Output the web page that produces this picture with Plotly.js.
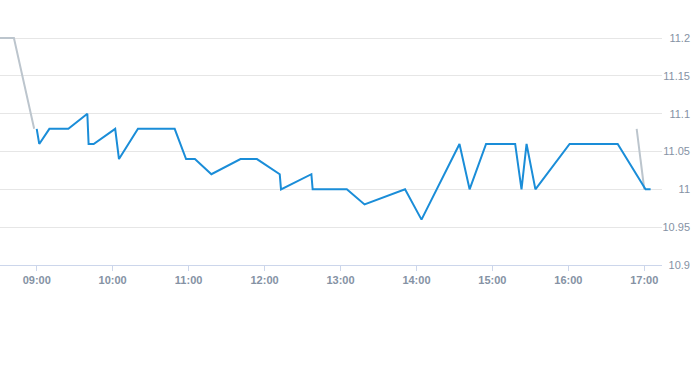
<!DOCTYPE html>
<html>
<head>
<meta charset="utf-8">
<script src="https://cdn.plot.ly/plotly-3.0.1.min.js"></script>
<style>
html,body{margin:0;padding:0;background:#fff;}
#chart{width:693px;height:365px;}
</style>
</head>
<body>
<div id="chart"></div>
<script>
// Intraday price (blue)
const times = ["09:00","09:02","09:10","09:25","09:40","09:41","09:45","10:02","10:05","10:20","10:49","10:58","11:05","11:18","11:41","11:54","12:12","12:13","12:37","12:38","13:05","13:19","13:51","14:04","14:34","14:42","14:55","15:18","15:23","15:27","15:34","16:01","16:39","17:01","17:05"];
const prices = [11.08,11.06,11.08,11.08,11.10,11.06,11.06,11.08,11.04,11.08,11.08,11.04,11.04,11.02,11.04,11.04,11.02,11.00,11.02,11.00,11.00,10.98,11.00,10.96,11.06,11.00,11.06,11.06,11.00,11.06,11.00,11.06,11.06,11.00,11.00];
// Grey pre-open segment
const preTimes = ["08:25","08:42","08:58"];
const prePrices = [11.20,11.20,11.08];
// Grey closing segment
const postTimes = ["16:54","17:00"];
const postPrices = [11.08,11.00];
// Axis ticks
const xTickTimes = ["09:00","10:00","11:00","12:00","13:00","14:00","15:00","16:00","17:00"];
const yTickVals = [10.9,10.95,11,11.05,11.1,11.15,11.2];
const yTickText = ["10.9","10.95","11","11.05","11.1","11.15","11.2"];

const day = "2024-01-02 ";
const d = t => day + t;

// geometry (pixels)
const H = 365, mT = 15, mB = 80, areaH = H - mT - mB;   // 270
const plotTop = 35, plotBot = 265;
const yRange = [10.9, 11.204];
const pxPerUnit = (plotBot - plotTop) / (yRange[1] - yRange[0]);
const yDom = [(H - mB - plotBot) / areaH, (H - mB - plotTop) / areaH];
const padTop = yDom[1] < 1 ? (1 - yDom[1]) * areaH : 0;
const padBot = yDom[0] * areaH;
const y2Range = [yRange[0] - padBot / pxPerUnit, yRange[1] + padTop / pxPerUnit];

const traces = [
  {x: preTimes.map(d), y: prePrices, type:'scatter', mode:'lines', yaxis:'y',
   line:{color:'#bcc5cd', width:2}, hoverinfo:'skip'},
  {x: postTimes.map(d), y: postPrices, type:'scatter', mode:'lines', yaxis:'y',
   line:{color:'#bcc5cd', width:2}, hoverinfo:'skip'},
  {x: times.map(d), y: prices, type:'scatter', mode:'lines', yaxis:'y2',
   line:{color:'#1a8dd8', width:2}}
];

const tickFont = {family:'Liberation Sans, Arial, sans-serif', size:11, color:'#8592a4'};

const layout = {
  width:693, height:H,
  margin:{l:0, r:0, t:mT, b:mB, pad:0},
  showlegend:false,
  paper_bgcolor:'#fff', plot_bgcolor:'rgba(0,0,0,0)',
  xaxis:{
    type:'date', domain:[0, 662/693], anchor:'y',
    range:[d("08:31"), d("17:14")],
    tickvals: xTickTimes.map(d), tickformat:'%H:%M',
    ticks:'outside', ticklen:5, tickcolor:'#ccd6eb', tickwidth:1,
    showline:true, linecolor:'#ccd6eb', linewidth:1,
    showgrid:false, zeroline:false,
    tickfont: Object.assign({}, tickFont, {weight:'bold'})
  },
  yaxis:{
    range:yRange, side:'right', domain:yDom,
    tickvals:yTickVals, showticklabels:false, ticks:'',
    showgrid:true, gridcolor:'#e6e6e6', gridwidth:1, zeroline:false, showline:false
  },
  yaxis2:{
    side:'right', anchor:'free', position:1, domain:[0,1],
    range:y2Range,
    tickvals:yTickVals, ticktext:yTickText, ticklabelposition:'inside',
    showgrid:false, zeroline:false, showline:false, ticks:'',
    tickfont: tickFont
  }
};

Plotly.newPlot('chart', traces, layout, {staticPlot:true, displayModeBar:false});
</script>
</body>
</html>
